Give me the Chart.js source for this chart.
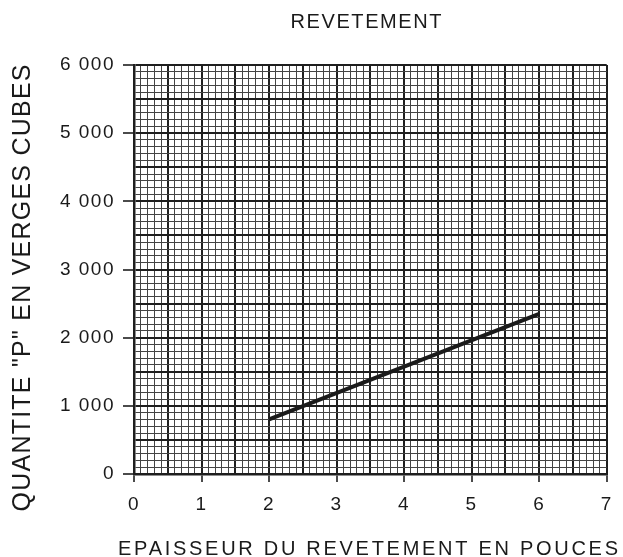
<!DOCTYPE html>
<html>
<head>
<meta charset="utf-8">
<script src="https://cdn.jsdelivr.net/npm/chart.js@4.4.1/dist/chart.umd.min.js"></script>
<style>
  html, body { margin: 0; padding: 0; background: #ffffff; }
  #wrap { width: 623px; height: 557px; position: relative; }
</style>
</head>
<body>
<div id="wrap"><canvas id="c" width="623" height="557"></canvas></div>
<script>
// ---- data ----
const chartTitle = "REVETEMENT";
const xAxisTitle = "EPAISSEUR DU REVETEMENT EN POUCES";
const yAxisTitle = "QUANTITE \"P\" EN VERGES CUBES";
const thickness = [2, 6];          // inches
const quantity = [800, 2350];      // cubic yards
const xTickLabels = ["0", "1", "2", "3", "4", "5", "6", "7"];
const yTickLabels = ["0", "1 000", "2 000", "3 000", "4 000", "5 000", "6 000"];

const INK = "#1a1a1a";
const isMult = (v, m) => Math.abs(v / m - Math.round(v / m)) < 1e-6;

const points = thickness.map((x, i) => ({ x: x, y: quantity[i] }));

const bgPlugin = {
  id: "bg",
  beforeDraw(chart) {
    const ctx = chart.ctx;
    ctx.save();
    ctx.fillStyle = "#ffffff";
    ctx.fillRect(0, 0, chart.width, chart.height);
    ctx.restore();
    ctx.letterSpacing = "1.5px";
  },
  beforeDatasetsDraw(chart) {
    chart.ctx.letterSpacing = "0px";
  }
};

function spacedText(ctx, text, cx, cy, target, font, rot) {
  ctx.save();
  ctx.font = font;
  ctx.fillStyle = INK;
  ctx.letterSpacing = "0px";
  const w0 = ctx.measureText(text).width;
  const sp = (target - w0) / (text.length - 1);
  ctx.letterSpacing = sp + "px";
  ctx.translate(cx, cy);
  if (rot) ctx.rotate(rot);
  ctx.textAlign = "left";
  ctx.textBaseline = "middle";
  ctx.fillText(text, -target / 2, 0);
  ctx.restore();
}

const titlePlugin = {
  id: "titles",
  afterDraw(chart) {
    const ctx = chart.ctx;
    spacedText(ctx, chartTitle, 366, 22, 151, "20px 'Liberation Sans'", 0);
    spacedText(ctx, xAxisTitle, 368, 549, 500, "20px 'Liberation Sans'", 0);
    spacedText(ctx, yAxisTitle, 23, 288, 447, "25px 'Liberation Sans'", -Math.PI / 2);
  }
};

new Chart(document.getElementById("c"), {
  type: "scatter",
  data: {
    datasets: [{
      data: points,
      showLine: true,
      borderColor: INK,
      borderWidth: 4,
      pointRadius: 0,
      borderCapStyle: "butt",
      fill: false
    }]
  },
  options: {
    responsive: false,
    animation: false,
    devicePixelRatio: 1,
    layout: { padding: { top: 65, right: 14, left: 0, bottom: 0 } },
    plugins: {
      legend: { display: false },
      title: { display: false },
      tooltip: { enabled: false }
    },
    scales: {
      x: {
        type: "linear",
        min: 0,
        max: 7,
        afterFit(scale) { scale.height = 83; },
        ticks: {
          stepSize: 0.1,
          maxTicksLimit: 1000,
          autoSkip: false,
          maxRotation: 0,
          minRotation: 0,
          padding: 11,
          color: INK,
          font: { family: "'Liberation Sans'", size: 19 },
          callback: (v) => isMult(v, 1) ? xTickLabels[Math.round(v)] : ""
        },
        grid: {
          drawOnChartArea: true,
          drawTicks: true,
          tickLength: 8,
          color: (c) => isMult(c.tick.value, 0.5) ? "#1e1e1e" : "#444444",
          lineWidth: (c) => isMult(c.tick.value, 0.5) ? 2 : 1,
          tickColor: (c) => isMult(c.tick.value, 1) ? "#1e1e1e" : "rgba(0,0,0,0)",
          tickWidth: 1.6
        },
        border: { display: true, color: "#1e1e1e", width: 2.5 }
      },
      y: {
        type: "linear",
        min: 0,
        max: 6000,
        afterFit(scale) { scale.width = 134; },
        ticks: {
          stepSize: 100,
          maxTicksLimit: 1000,
          autoSkip: false,
          padding: 8,
          color: INK,
          font: { family: "'Liberation Sans'", size: 19 },
          callback: (v) => isMult(v, 1000) ? yTickLabels[Math.round(v / 1000)] : ""
        },
        grid: {
          drawOnChartArea: true,
          drawTicks: true,
          tickLength: 11,
          color: (c) => isMult(c.tick.value, 500) ? "#1e1e1e" : "#444444",
          lineWidth: (c) => isMult(c.tick.value, 500) ? 2 : 1,
          tickColor: (c) => isMult(c.tick.value, 1000) ? "#1e1e1e" : "rgba(0,0,0,0)",
          tickWidth: 1.6
        },
        border: { display: true, color: "#1e1e1e", width: 2.5 }
      }
    }
  },
  plugins: [bgPlugin, titlePlugin]
});
</script>
</body>
</html>
